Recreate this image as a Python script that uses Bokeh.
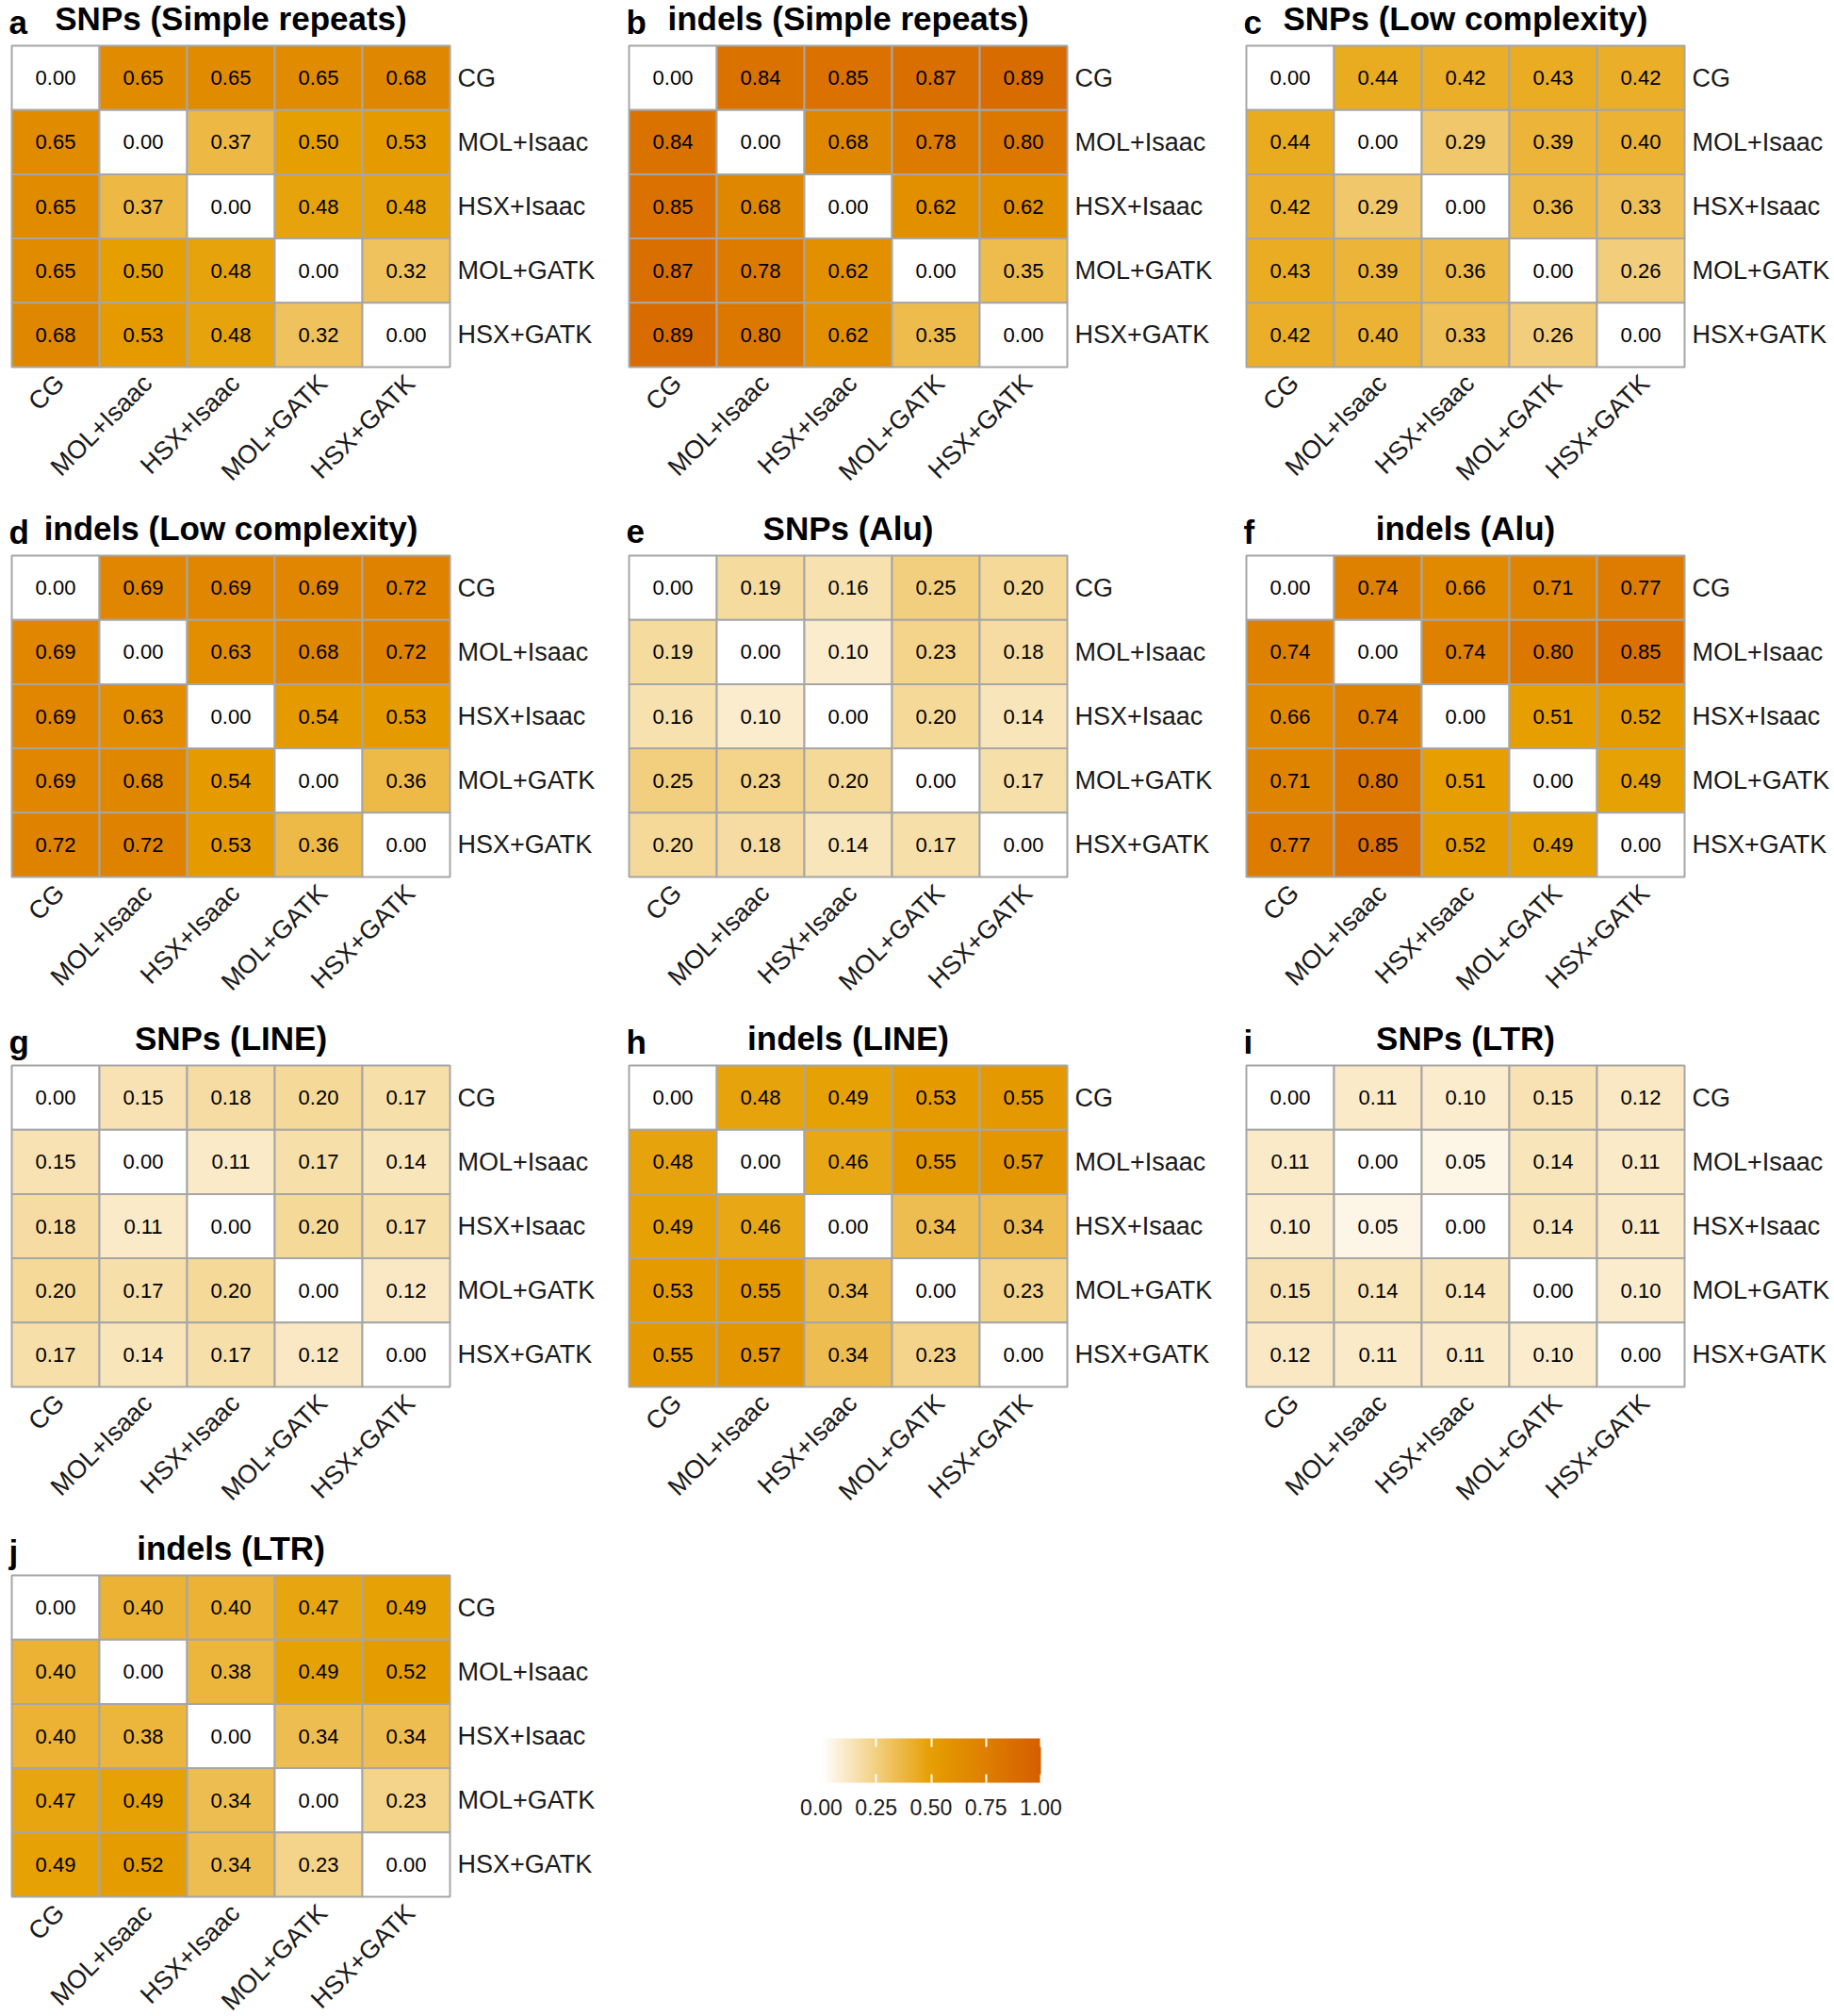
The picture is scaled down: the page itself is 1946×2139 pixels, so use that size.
import numpy as np
from math import pi
from bokeh.plotting import figure
from bokeh.models import (ColumnDataSource, LinearColorMapper, ColorBar, FixedTicker,
                          PrintfTickFormatter, Range1d)
from bokeh.layouts import column, row
from bokeh.embed import file_html
from bokeh.resources import INLINE
from bokeh.core.properties import value

# ---------------- data ----------------
methods = ["CG", "MOL+Isaac", "HSX+Isaac", "MOL+GATK", "HSX+GATK"]

panel_letters = ["a", "b", "c", "d", "e", "f", "g", "h", "i", "j"]
panel_titles = ["SNPs (Simple repeats)", "indels (Simple repeats)", "SNPs (Low complexity)",
                "indels (Low complexity)", "SNPs (Alu)", "indels (Alu)",
                "SNPs (LINE)", "indels (LINE)", "SNPs (LTR)", "indels (LTR)"]

# pairwise distances, upper triangle in order:
# CG-MOL+Isaac, CG-HSX+Isaac, CG-MOL+GATK, CG-HSX+GATK,
# MOL+Isaac-HSX+Isaac, MOL+Isaac-MOL+GATK, MOL+Isaac-HSX+GATK,
# HSX+Isaac-MOL+GATK, HSX+Isaac-HSX+GATK, MOL+GATK-HSX+GATK
snps_simple_repeats = [0.65, 0.65, 0.65, 0.68, 0.37, 0.50, 0.53, 0.48, 0.48, 0.32]
indels_simple_repeats = [0.84, 0.85, 0.87, 0.89, 0.68, 0.78, 0.80, 0.62, 0.62, 0.35]
snps_low_complexity = [0.44, 0.42, 0.43, 0.42, 0.29, 0.39, 0.40, 0.36, 0.33, 0.26]
indels_low_complexity = [0.69, 0.69, 0.69, 0.72, 0.63, 0.68, 0.72, 0.54, 0.53, 0.36]
snps_alu = [0.19, 0.16, 0.25, 0.20, 0.10, 0.23, 0.18, 0.20, 0.14, 0.17]
indels_alu = [0.74, 0.66, 0.71, 0.77, 0.74, 0.80, 0.85, 0.51, 0.52, 0.49]
snps_line = [0.15, 0.18, 0.20, 0.17, 0.11, 0.17, 0.14, 0.20, 0.17, 0.12]
indels_line = [0.48, 0.49, 0.53, 0.55, 0.46, 0.55, 0.57, 0.34, 0.34, 0.23]
snps_ltr = [0.11, 0.10, 0.15, 0.12, 0.05, 0.14, 0.11, 0.14, 0.11, 0.10]
indels_ltr = [0.40, 0.40, 0.47, 0.49, 0.38, 0.49, 0.52, 0.34, 0.34, 0.23]

panel_values = [snps_simple_repeats, indels_simple_repeats, snps_low_complexity,
                indels_low_complexity, snps_alu, indels_alu, snps_line, indels_line,
                snps_ltr, indels_ltr]

colorbar_ticks = [0.0, 0.25, 0.5, 0.75, 1.0]

# ---------------- styling ----------------
FONT = "Liberation Sans"
TEXT_COLOR = "#1a1a1a"
GRID_COLOR = "#a6a6a6"
CELL_W, CELL_H = 93.0, 68.2          # px per cell
PAD_L, PAD_T, PAD_R = 12, 48, 2       # px of frame around the grid
COL_W = [655, 655, 636]
ROW_H = [541, 541, 541, 516]
anchor_colors = [(255, 255, 255), (230, 159, 0), (213, 94, 0)]

palette = []
for k in range(256):
    t = k / 255.0
    if t <= 0.5:
        s, c0, c1 = t / 0.5, anchor_colors[0], anchor_colors[1]
    else:
        s, c0, c1 = (t - 0.5) / 0.5, anchor_colors[1], anchor_colors[2]
    palette.append("#%02x%02x%02x" % tuple(int(round(a + (b - a) * s)) for a, b in zip(c0, c1)))

mapper = LinearColorMapper(palette=palette, low=0, high=1)


def full_matrix(vals):
    n = len(methods)
    m = [[0.0] * n for _ in range(n)]
    k = 0
    for i in range(n):
        for j in range(i + 1, n):
            m[i][j] = vals[k]
            m[j][i] = vals[k]
            k += 1
    return m


def make_panel(idx):
    r_i, c_i = divmod(idx, 3)
    n = len(methods)
    mat = full_matrix(panel_values[idx])
    xs, ys, vs, ts = [], [], [], []
    for r in range(n):
        for c in range(n):
            xs.append(c)
            ys.append(n - 1 - r)
            vs.append(mat[r][c])
            ts.append("%.2f" % mat[r][c])
    src = ColumnDataSource(dict(x=xs, y=ys, v=vs, t=ts))

    W, H = COL_W[c_i], ROW_H[r_i]
    fw = int(PAD_L + n * CELL_W + PAD_R)
    pad_b = H - PAD_T - n * CELL_H
    x_range = Range1d(-0.5 - PAD_L / CELL_W, n - 0.5 + (fw - PAD_L - n * CELL_W) / CELL_W)
    y_range = Range1d(-0.5 - pad_b / CELL_H, n - 0.5 + PAD_T / CELL_H)
    p = figure(frame_width=fw, frame_height=H, x_range=x_range, y_range=y_range,
               x_axis_location=None, y_axis_location="right",
               toolbar_location=None, output_backend="svg",
               min_border_left=0, min_border_top=0, min_border_bottom=0,
               min_border_right=W - fw)
    p.outline_line_color = None
    p.grid.visible = False

    p.rect(x="x", y="y", width=1, height=1, source=src,
           fill_color={"field": "v", "transform": mapper},
           line_color=GRID_COLOR, line_width=2)
    p.text(x="x", y="y", text="t", source=src, text_align="center",
           text_baseline="middle", text_font=value(FONT), text_font_size="22px",
           text_color="black")

    # column labels under the grid, rotated 45 degrees (ggplot style hjust=1, vjust=1)
    lab_src = ColumnDataSource(dict(x=[i - 6 / CELL_W for i in range(n)],
                                    y=[-0.5 - 2 / CELL_H] * n, t=methods))
    p.text(x="x", y="y", text="t", source=lab_src, angle=pi / 4,
           text_align="right", text_baseline="top", text_font=value(FONT),
           text_font_size="27px", text_color=TEXT_COLOR)

    # row labels on the right axis
    ax = p.yaxis[0]
    ax.ticker = FixedTicker(ticks=list(range(n)))
    ax.major_label_overrides = {n - 1 - i: m for i, m in enumerate(methods)}
    ax.axis_line_color = None
    ax.major_tick_line_color = None
    ax.minor_tick_line_color = None
    ax.major_tick_out = 0
    ax.major_tick_in = 0
    ax.minor_tick_out = 0
    ax.minor_tick_in = 0
    ax.major_label_text_font = FONT
    ax.major_label_text_font_size = "27px"
    ax.major_label_text_color = TEXT_COLOR
    ax.major_label_standoff = 6

    # panel title and letter
    top = n - 0.5
    p.text(x=[(n - 1) / 2], y=[top + 29.5 / CELL_H], text=[panel_titles[idx]],
           text_align="center", text_baseline="alphabetic", text_font=value(FONT),
           text_font_style="bold", text_font_size="35px", text_color="black")
    p.text(x=[-0.5 - 3 / CELL_W], y=[top + 25.5 / CELL_H], text=[panel_letters[idx]],
           text_align="left", text_baseline="alphabetic", text_font=value(FONT),
           text_font_style="bold", text_font_size="35px", text_color="black")
    return p


panels = [make_panel(i) for i in range(10)]

# colour bar holder (frame spans the whole slot so that it lines up with panel j)
cbp = figure(frame_width=COL_W[1], frame_height=ROW_H[3], x_range=(0, 1), y_range=(0, 1),
             toolbar_location=None, output_backend="svg",
             x_axis_location=None, y_axis_location=None, min_border=0)
cbp.outline_line_color = None
cbp.grid.visible = False
cb = ColorBar(color_mapper=mapper, orientation="horizontal", width=233, height=47,
              padding=0, margin=0, location=(216, 211),
              ticker=FixedTicker(ticks=colorbar_ticks),
              formatter=PrintfTickFormatter(format="%.2f"),
              major_label_text_font=FONT, major_label_text_font_size="23px",
              major_label_text_color=TEXT_COLOR,
              major_tick_line_color="white", major_tick_in=47, major_tick_out=0,
              major_tick_line_width=2, major_tick_line_dash="9 29",
              minor_tick_line_color=None, bar_line_color=None,
              background_fill_alpha=0, border_line_color=None, label_standoff=17)
cbp.add_layout(cb)

layout = column(
    row(panels[0], panels[1], panels[2]),
    row(panels[3], panels[4], panels[5]),
    row(panels[6], panels[7], panels[8]),
    row(panels[9], cbp),
)

open("out.html", "w").write(file_html(layout, INLINE))
